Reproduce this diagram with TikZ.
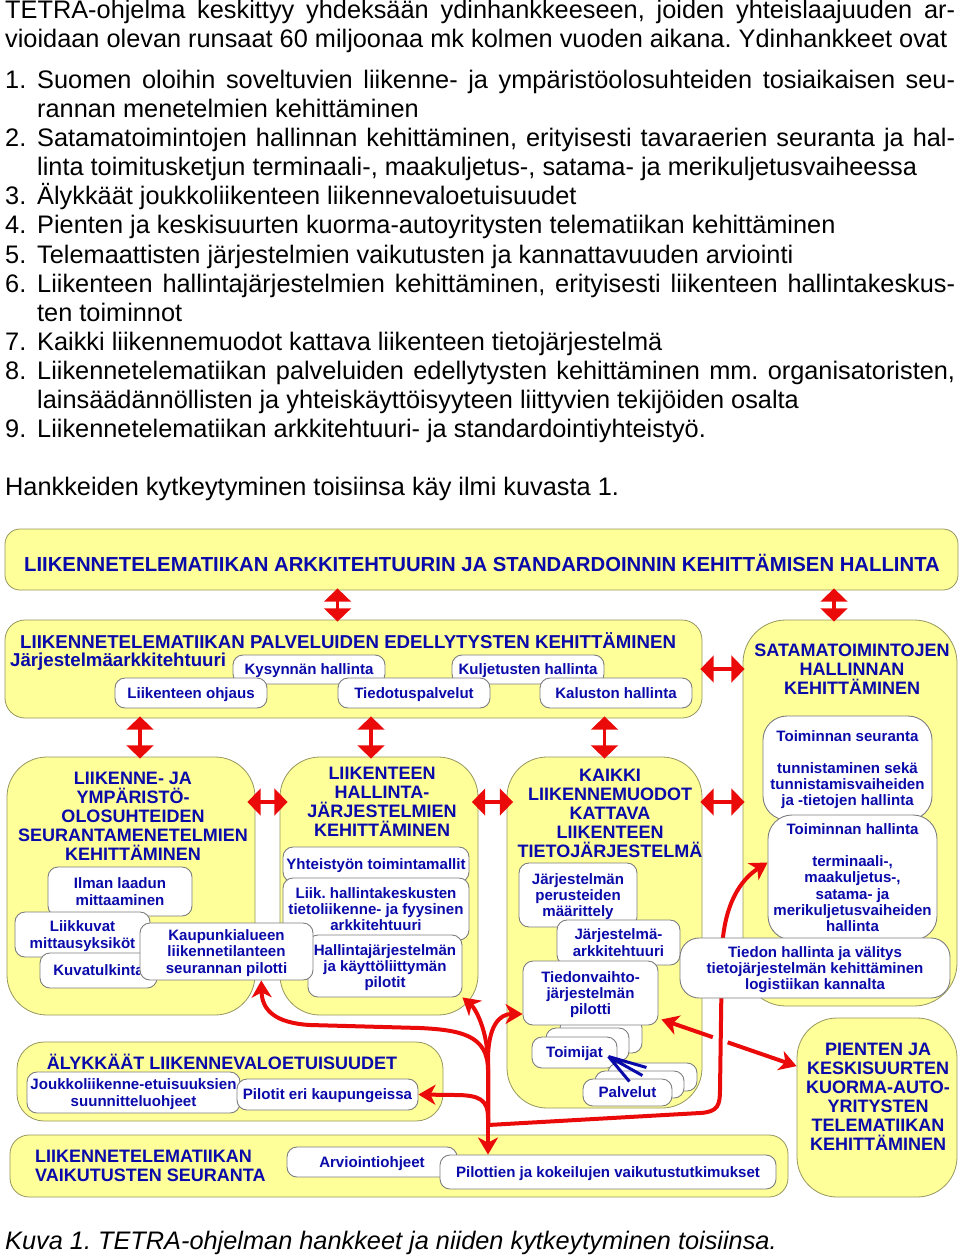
\documentclass[tikz,border=0pt]{standalone}
\usepackage{fontspec}
\setmainfont{Liberation Sans}
\usetikzlibrary{arrows.meta,calc,fit,positioning}
\definecolor{lemon}{RGB}{255,255,153}
\definecolor{olive}{RGB}{150,150,95}
\definecolor{slate}{RGB}{125,125,125}
\definecolor{royal}{RGB}{10,10,170}
\definecolor{alarm}{RGB}{235,10,10}
\frenchspacing
\tikzset{
  panel/.style={draw=olive,fill=lemon,rounded corners=#1,inner sep=0pt,line width=0.8pt},
  panel/.default=16pt,
  card/.style={draw=slate,fill=white,rounded corners=#1,inner sep=0pt,align=center,line width=0.9pt,
    text depth=-3pt,text=royal,font=\fontsize{15.07}{16.3}\selectfont\bfseries},
  card/.default=10pt,
  head/.style={text=royal,align=center,inner sep=0pt,
    font=\fontsize{18}{19}\selectfont\bfseries},
  txt/.style={anchor=base west,inner sep=0pt,font=\fontsize{25.33}{29}\selectfont},
  swap/.style={<->,draw=alarm,line width=3.2pt,shorten <=-#1,shorten >=-#1,
    >={Triangle[length=13.3pt,width=26.7pt]}},
  swap/.default=2pt,
  pipe/.style={->,draw=alarm,line width=4pt,>={Stealth[length=17pt,width=20pt,inset=5pt]}},
  spark/.style={draw=royal,line width=3pt},
}
\newcommand{\nr}[1]{\makebox[32pt][l]{#1}}

\begin{document}
\begin{tikzpicture}[x=1pt,y=-1pt]
  \useasboundingbox (0,0) rectangle (960,1257);

  % intro text
  \node[txt] (l1) at (5,19) {\makebox[950pt][s]{TETRA-ohjelma keskittyy yhdeksään ydinhankkeeseen, joiden yhteislaajuuden ar-}};
  \node[txt] (l2) at (5,48) {vioidaan olevan runsaat 60 miljoonaa mk kolmen vuoden aikana. Ydinhankkeet ovat};
  \node[txt] (l3) at (5,89) {\nr{1.}\makebox[918pt][s]{Suomen oloihin soveltuvien liikenne- ja ympäristöolosuhteiden tosiaikaisen seu-}};
  \node[txt] (l4) at (37,118) {rannan menetelmien kehittäminen};
  \node[txt] (l5) at (5,147) {\nr{2.}\makebox[918pt][s]{Satamatoimintojen hallinnan kehittäminen, erityisesti tavaraerien seuranta ja hal-}};
  \node[txt] (l6) at (37,176) {linta toimitusketjun terminaali-, maakuljetus-, satama- ja merikuljetusvaiheessa};
  \node[txt] (l7) at (5,205) {\nr{3.}Älykkäät joukkoliikenteen liikennevaloetuisuudet};
  \node[txt] (l8) at (5,234) {\nr{4.}Pienten ja keskisuurten kuorma-autoyritysten telematiikan kehittäminen};
  \node[txt] (l9) at (5,263) {\nr{5.}Telemaattisten järjestelmien vaikutusten ja kannattavuuden arviointi};
  \node[txt] (l10) at (5,292) {\nr{6.}\makebox[918pt][s]{Liikenteen hallintajärjestelmien kehittäminen, erityisesti liikenteen hallintakeskus-}};
  \node[txt] (l11) at (37,321) {ten toiminnot};
  \node[txt] (l12) at (5,350) {\nr{7.}Kaikki liikennemuodot kattava liikenteen tietojärjestelmä};
  \node[txt] (l13) at (5,379) {\nr{8.}\makebox[918pt][s]{Liikennetelematiikan palveluiden edellytysten kehittäminen mm. organisatoristen,}};
  \node[txt] (l14) at (37,408) {lainsäädännöllisten ja yhteiskäyttöisyyteen liittyvien tekijöiden osalta};
  \node[txt] (l15) at (5,437) {\nr{9.}Liikennetelematiikan arkkitehtuuri- ja standardointiyhteistyö.};
  \node[txt] (l16) at (5,495) {Hankkeiden kytkeytyminen toisiinsa käy ilmi kuvasta 1.};

  % top band
  \node[panel=15pt,fit={(5,529) (958,590)}] (arch) {};
  \node[head,font=\fontsize{20.3}{22}\selectfont\bfseries] (archT) at (482,563) {LIIKENNETELEMATIIKAN ARKKITEHTUURIN JA STANDARDOINNIN KEHITTÄMISEN HALLINTA};

  % services
  \node[panel=20pt,fit={(5,620) (702,718)}] (palv) {};
  \node[head,anchor=west,font=\fontsize{18.67}{21}\selectfont\bfseries] (palvT) at (20,641) {LIIKENNETELEMATIIKAN PALVELUIDEN EDELLYTYSTEN KEHITTÄMINEN};
  \node[head,anchor=west,font=\fontsize{18.67}{21}\selectfont\bfseries] (jarT) at (10,662) {Järjestelmäarkkitehtuuri};
  \node[card,minimum width=152pt,minimum height=29pt] (kys) at (309,669.5) {Kysynnän hallinta};
  \node[card,minimum width=152pt,minimum height=29pt] (kul) at (528,669.5) {Kuljetusten hallinta};
  \node[card,minimum width=152pt,minimum height=30pt] (ohj) at (191,693) {Liikenteen ohjaus};
  \node[card,minimum width=152pt,minimum height=30pt] (tie) at (414,693) {Tiedotuspalvelut};
  \node[card,minimum width=152pt,minimum height=30pt] (kal) at (616,693) {Kaluston hallinta};

  % port operations
  \node[panel=43pt,fit={(743,620) (957,1006)}] (sat) {};
  \node[head] (satT) at (852,669) {SATAMATOIMINTOJEN\\HALLINNAN\\KEHITTÄMINEN};
  \node[card=24pt,text depth=-11pt,minimum width=169pt,minimum height=104pt] (seu) at (847.5,768) {Toiminnan seuranta\\[16pt]tunnistaminen sekä\\tunnistamisvaiheiden\\ja -tietojen hallinta};
  \node[card=24pt,text depth=-6pt,minimum width=169pt,minimum height=125pt] (hal) at (852.5,877.5) {Toiminnan hallinta\\[16pt]terminaali-,\\maakuljetus-,\\satama- ja\\merikuljetusvaiheiden\\hallinta};

  % middle row
  \node[panel=40pt,fit={(7,757) (255,1015)}] (lyo) {};
  \node[head] (lyoT) at (133,816) {LIIKENNE- JA\\YMPÄRISTÖ-\\OLOSUHTEIDEN\\SEURANTAMENETELMIEN\\KEHITTÄMINEN};
  \node[panel=40pt,fit={(280,757) (478,1015)}] (lhj) {};
  \node[head] (lhjT) at (382,802) {LIIKENTEEN\\HALLINTA-\\JÄRJESTELMIEN\\KEHITTÄMINEN};
  \node[panel=40pt,fit={(507,757) (702,1108)}] (kai) {};
  \node[head] (kaiT) at (610,813) {KAIKKI\\LIIKENNEMUODOT\\KATTAVA\\LIIKENTEEN\\TIETOJÄRJESTELMÄ};

  \node[card,minimum width=186pt,minimum height=35pt] (yht) at (376,864.5) {Yhteistyön toimintamallit};
  \node[card,minimum width=186pt,minimum height=62pt] (liik) at (376,909) {Liik. hallintakeskusten\\tietoliikenne- ja fyysinen\\arkkitehtuuri};
  \node[card,minimum width=154pt,minimum height=62pt] (hjp) at (385,966) {Hallintajärjestelmän\\ja käyttöliittymän\\pilotit};

  \node[card,minimum width=144pt,minimum height=49pt] (ilm) at (120,891.5) {Ilman laadun\\mittaaminen};
  \node[card,minimum width=135pt,minimum height=45pt] (lii) at (82.5,934.5) {Liikkuvat\\mittausyksiköt};
  \node[card,minimum width=117pt,minimum height=35pt] (kuv) at (98.5,970.5) {Kuvatulkinta};
  \node[card,minimum width=173pt,minimum height=57pt] (kau) at (226.5,951.5) {Kaupunkialueen\\liikennetilanteen\\seurannan pilotti};

  \node[card,minimum width=118pt,minimum height=64pt] (per) at (578,895) {Järjestelmän\\perusteiden\\määrittely};
  \node[card,minimum width=123pt,minimum height=45pt] (ark) at (618.5,942.5) {Järjestelmä-\\arkkitehtuuri};
  \node[card,minimum width=82pt,minimum height=35pt] (toi3) at (601,1035.5) {};
  \node[card,minimum width=83pt,minimum height=33pt] (toi2) at (587.5,1044.5) {};
  \node[card,minimum width=85pt,minimum height=31pt] (toi) at (574.5,1052.5) {Toimijat};
  \node[card,minimum width=89pt,minimum height=28pt] (pal3) at (652.5,1077) {};
  \node[card,minimum width=89pt,minimum height=27pt] (pal2) at (639.5,1084.5) {};
  \node[card,minimum width=89pt,minimum height=27pt] (pal) at (627.5,1092.5) {Palvelut};
  \node[card,minimum width=135pt,minimum height=64pt] (tvp) at (590.5,993) {Tiedonvaihto-\\järjestelmän\\pilotti};
  \coordinate (tip) at ($(toi.east)+(-9,4)$);
  \draw[spark] (tip) -- ++(21,25) (tip) -- ++(34,19) (tip) -- ++(38,11);

  % trucks
  \node[panel=40pt,fit={(797,1018) (957,1197)}] (pien) {};
  \node[head] (pienT) at (878,1097) {PIENTEN JA\\KESKISUURTEN\\KUORMA-AUTO-\\YRITYSTEN\\TELEMATIIKAN\\KEHITTÄMINEN};

  % traffic lights
  \node[panel=27pt,fit={(17,1042) (443,1121)}] (aly) {};
  \node[head] (alyT) at (222,1062) {ÄLYKKÄÄT LIIKENNEVALOETUISUUDET};
  \node[card,minimum width=213pt,minimum height=41pt] (jou) at (133.5,1092.5) {Joukkoliikenne-etuisuuksien\\suunnitteluohjeet};
  \node[card,minimum width=181pt,minimum height=31pt] (pil) at (327.5,1094.5) {Pilotit eri kaupungeissa};

  % impacts
  \node[panel=19pt,fit={(10,1135) (788,1197)}] (vai) {};
  \node[head,anchor=west,align=left] (vaiT) at (35,1166) {LIIKENNETELEMATIIKAN\\VAIKUTUSTEN SEURANTA};
  \node[card,minimum width=170pt,minimum height=30pt] (arv) at (372,1162) {Arviointiohjeet};
  \node[card,minimum width=336pt,minimum height=34pt] (pvt) at (608,1172) {Pilottien ja kokeilujen vaikutustutkimukset};

  % two-way links
  \draw[swap] (arch.south -| tie.west) -- (palv.north -| tie.west);
  \draw[swap] ([xshift=-16pt]arch.south -| sat.north) -- ([xshift=-16pt]sat.north);
  \draw[swap] (palv.east |- satT) -- (sat.west |- satT);
  \draw[swap] ([xshift=9pt]palv.south -| lyo.north) -- ([xshift=9pt]lyo.north);
  \draw[swap] ([xshift=-8pt]palv.south -| lhj.north) -- ([xshift=-8pt]lhj.north);
  \draw[swap] (palv.south -| kai.north) -- (kai.north);
  \draw[swap=8pt] (lyo.east |- lhjT) -- (lhj.west |- lhjT);
  \draw[swap=6.5pt] (lhj.east |- lhjT) -- (kai.west |- lhjT);
  \draw[swap] (kai.east |- lhjT) -- (sat.west |- lhjT);

  % pilot network
  \coordinate (hub) at (488,1125);
  \draw[pipe] (hub) -- (pvt.north -| hub);
  \draw[pipe] (hub) -- (488,1070) .. controls (488,1035) and (460,1030) .. (420,1028)
    -- (310,1025) .. controls (275,1023) and (262,1010) .. ($(kau.south west)!0.7!(kau.south east)$);
  \draw[pipe] (hub) -- (488,1065) .. controls (488,1030) and (475,1008) .. (hjp.south east);
  \draw[pipe] (hub) -- (488,1060) .. controls (488,1025) and (500,1014) .. ($(tvp.west)+(0,21)$);
  \draw[pipe] (hub) -- (488,1118) .. controls (488,1100) and (480,1095) .. (455,1095) -- (pil.east);
  \draw[pipe] (hub) -- (700,1113) .. controls (718,1112) and (720,1105) .. (720,1090)
    -- (722,950) .. controls (724,905) and (740,880) .. ($(hal.west)+(0,-15)$);
  \coordinate (t1) at ($(tvp.south east)+(3,-6)$);
  \coordinate (t2) at ($(pien.north west)!0.27!(pien.south west)$);
  \draw[pipe] ($(t1)!0.38!(t2)$) -- (t1);
  \draw[pipe] ($(t1)!0.49!(t2)$) -- (t2);

  \node[card=19pt,minimum width=270pt,minimum height=60pt] (ted) at (815,968) {Tiedon hallinta ja välitys\\tietojärjestelmän kehittäminen\\logistiikan kannalta};

  % caption
  \node[txt,font=\fontsize{25.33}{29}\selectfont\itshape] (cap) at (5,1249) {Kuva 1. TETRA-ohjelman hankkeet ja niiden kytkeytyminen toisiinsa.};
\end{tikzpicture}
\end{document}
